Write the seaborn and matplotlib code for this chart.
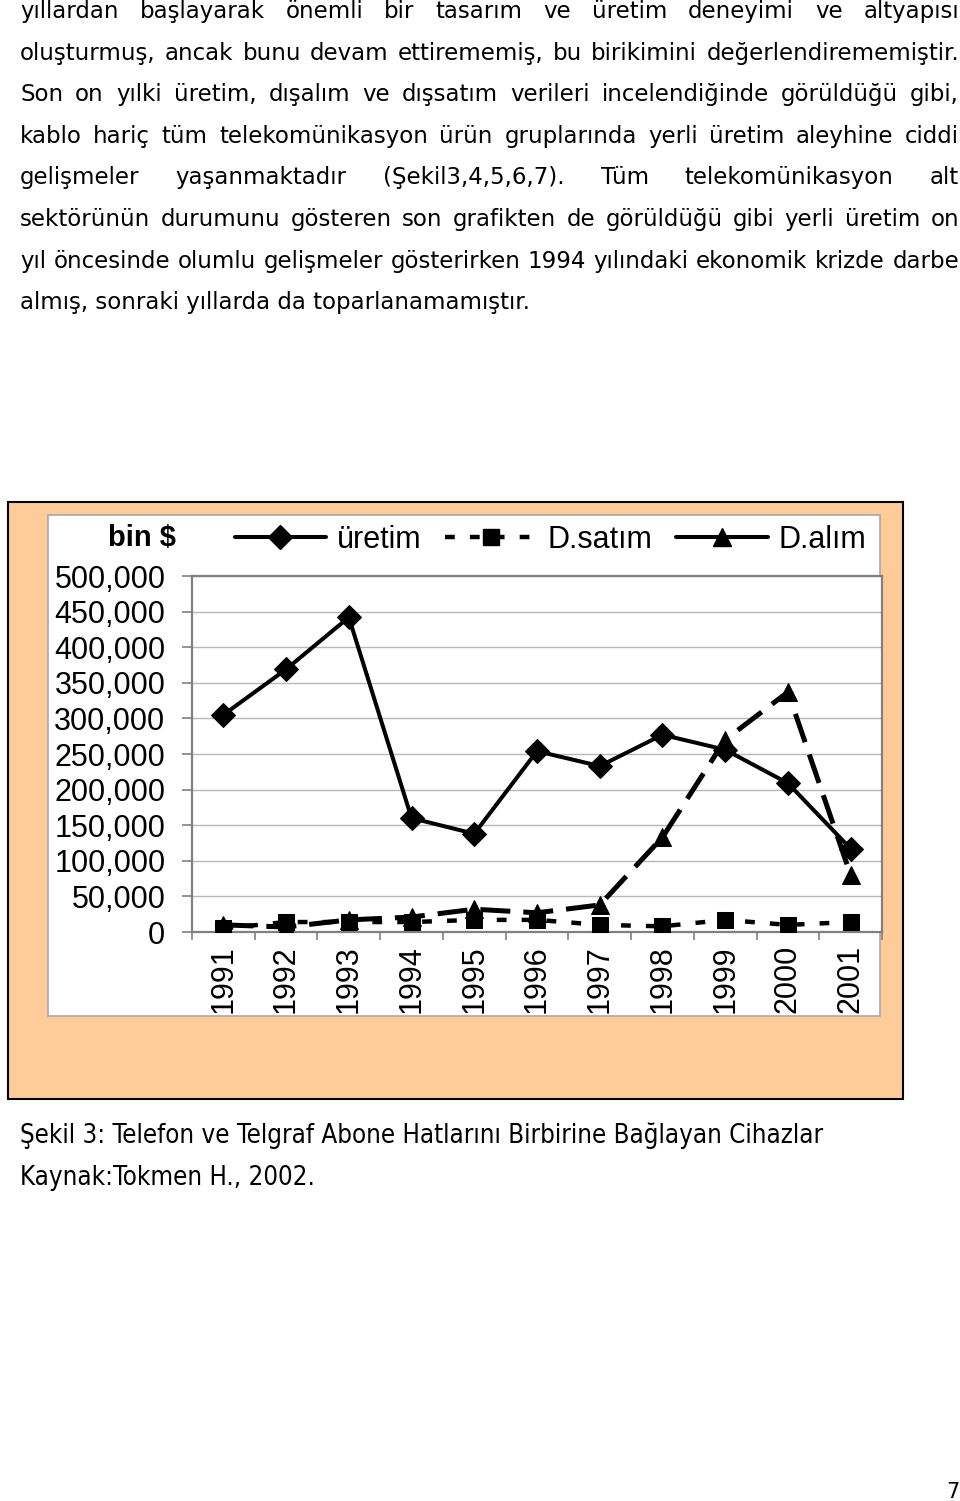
import matplotlib
matplotlib.use('Agg')
import matplotlib.pyplot as plt
import seaborn as sns
import pandas as pd
from matplotlib.lines import Line2D
from matplotlib.patches import Rectangle
from matplotlib.ticker import FuncFormatter, FixedLocator, MultipleLocator

# ---------------- data (bin $) ----------------
years = ['1991', '1992', '1993', '1994', '1995', '1996', '1997', '1998', '1999', '2000', '2001']
uretim = [305000, 369000, 442000, 160000, 138000, 254000, 233000, 277000, 256000, 209000, 117000]
d_satim = [5000, 14000, 14000, 14000, 17000, 17000, 10000, 8000, 17000, 10000, 14000]
d_alim = [10000, 7000, 17000, 21000, 32000, 27000, 38000, 133000, 270000, 337000, 80000]
series_names = ['üretim', 'D.satım', 'D.alım']
y_ticks = [0, 50000, 100000, 150000, 200000, 250000, 300000, 350000, 400000, 450000, 500000]
unit_label = 'bin $'

para_lines = [
    'yıllardan başlayarak önemli bir tasarım ve üretim deneyimi ve altyapısı',
    'oluşturmuş, ancak bunu devam ettirememiş, bu birikimini değerlendirememiştir.',
    'Son on yılki üretim, dışalım ve dışsatım verileri incelendiğinde görüldüğü gibi,',
    'kablo hariç tüm telekomünikasyon ürün gruplarında yerli üretim aleyhine ciddi',
    'gelişmeler yaşanmaktadır (Şekil3,4,5,6,7). Tüm telekomünikasyon alt',
    'sektörünün durumunu gösteren son grafikten de görüldüğü gibi yerli üretim on',
    'yıl öncesinde olumlu gelişmeler gösterirken 1994 yılındaki ekonomik krizde darbe',
    'almış, sonraki yıllarda da toparlanamamıştır.',
]
caption_lines = [
    'Şekil 3: Telefon ve Telgraf Abone Hatlarını Birbirine Bağlayan Cihazlar',
    'Kaynak:Tokmen H., 2002.',
]
page_number = '7'

# ---------------- figure ----------------
W, H = 960, 1501
sns.set_theme(style='white')
plt.rcParams['font.family'] = ['DejaVu Sans']
plt.rcParams['text.color'] = 'black'
fig = plt.figure(figsize=(W / 100, H / 100), dpi=100)
fig.patch.set_facecolor('white')

def fx(x):
    return x / W

def fy(y):
    return 1 - y / H

# chart background boxes
fig.patches.append(Rectangle((fx(8), fy(1099)), (903 - 8) / W, (1099 - 502) / H,
                             transform=fig.transFigure, facecolor='#FFCC99',
                             edgecolor='black', lw=1.5, zorder=0))
fig.patches.append(Rectangle((fx(48), fy(1016)), (880 - 48) / W, (1016 - 515) / H,
                             transform=fig.transFigure, facecolor='white',
                             edgecolor='#a8a8a8', lw=1.2, zorder=0.5))

# plot area
L, T, R, B = 192, 576, 882, 932
ax = fig.add_axes([fx(L), fy(B), (R - L) / W, (B - T) / H])
ax.set_zorder(2)
ax.set_facecolor('white')

df = pd.DataFrame({'year': years * 3,
                   'value': uretim + d_satim + d_alim,
                   'series': [series_names[0]] * 11 + [series_names[1]] * 11 + [series_names[2]] * 11})

chart_font = 'Liberation Sans'
fs = 22

sns.lineplot(data=df[df.series == series_names[1]], x='year', y='value', ax=ax,
             color='black', lw=3.2, marker='s', markersize=11, markeredgecolor='black',
             linestyle=(0, (2.2, 3.4)), legend=False, zorder=3)
sns.lineplot(data=df[df.series == series_names[2]], x='year', y='value', ax=ax,
             color='black', lw=3.6, marker='^', markersize=13, markeredgecolor='black',
             linestyle=(0, (6.0, 2.6)), legend=False, zorder=4)
sns.lineplot(data=df[df.series == series_names[0]], x='year', y='value', ax=ax,
             color='black', lw=2.9, marker='D', markersize=12.5, markeredgecolor='black',
             legend=False, zorder=5)

ax.set_xlim(-0.5, 10.5)
ax.set_ylim(0, 500000)
ax.yaxis.set_major_locator(FixedLocator(y_ticks))
ax.yaxis.set_major_formatter(FuncFormatter(lambda v, p: f'{int(v):,}'))
ax.grid(axis='y', color='#b8b8b8', lw=1.0)
ax.grid(axis='x', visible=False)
ax.set_axisbelow(True)
for s in ax.spines.values():
    s.set_visible(True)
    s.set_color('#808080')
    s.set_linewidth(1.6)
ax.set_xlabel('')
ax.set_ylabel('')
ax.xaxis.set_minor_locator(MultipleLocator(1, offset=0.5))
ax.tick_params(axis='y', which='major', direction='out', length=7.2, width=1.2,
               color='#808080', pad=12, left=True)
ax.tick_params(axis='x', which='major', length=0, pad=9.5, labelrotation=90)
ax.tick_params(axis='x', which='minor', direction='out', length=5.8, width=1.2,
               color='#808080', bottom=True)
for lab in ax.get_yticklabels() + ax.get_xticklabels():
    lab.set_fontfamily(chart_font)
    lab.set_fontsize(fs)
    lab.set_color('black')

# legend
handles = [
    Line2D([], [], color='black', lw=2.9, marker='D', markersize=12.5),
    Line2D([], [], color='black', lw=3.2, marker='s', markersize=11, linestyle=(0, (2.2, 3.4))),
    Line2D([], [], color='black', lw=2.9, marker='^', markersize=13),
]
leg = fig.legend(handles, series_names, loc='center left', bbox_to_anchor=(fx(207), fy(540)),
                 ncol=3, frameon=False, handlelength=3.0, handletextpad=0.35,
                 columnspacing=0.78, prop={'family': chart_font, 'size': fs})
for t in leg.get_texts():
    t.set_color('black')
fig.text(fx(176), fy(546), unit_label, ha='right', va='baseline',
         fontfamily=chart_font, fontweight='bold', fontsize=21, color='black')

# ---------------- page text ----------------
renderer = fig.canvas.get_renderer()

def width_of(s, size, **kw):
    t = fig.text(0, 0, s, fontsize=size, **kw)
    w = t.get_window_extent(renderer).width
    t.remove()
    return w

body_kw = dict(fontfamily='DejaVu Sans', color='black')
body_size = 10 * 513 / width_of(para_lines[-1], 10, **body_kw)

def place_line(line, y_base, x0, x1, size, justify, kw):
    if not justify:
        fig.text(fx(x0), fy(y_base), line, fontsize=size, va='baseline', ha='left', **kw)
        return
    words = line.split()
    widths = [width_of(w, size, **kw) for w in words]
    gap = (x1 - x0 - sum(widths)) / (len(words) - 1)
    x = x0
    for w, wd in zip(words, widths):
        fig.text(fx(x), fy(y_base), w, fontsize=size, va='baseline', ha='left', **kw)
        x += wd + gap

for i, line in enumerate(para_lines):
    place_line(line, 18 + 41.6 * i, 20, 959, body_size, i < len(para_lines) - 1, body_kw)

cap_kw = dict(fontfamily='DejaVu Sans', fontstretch='condensed', color='black')
cap_size = 10 * 805 / width_of(caption_lines[0], 10, **cap_kw)
for i, line in enumerate(caption_lines):
    place_line(line, 1143 + 42 * i, 20, 825, cap_size, False, cap_kw)

fig.text(fx(953), fy(1498), page_number, ha='center', va='baseline',
         fontsize=15, fontfamily='DejaVu Sans', color='black')

fig.savefig('out.png', dpi=100, facecolor='white')
